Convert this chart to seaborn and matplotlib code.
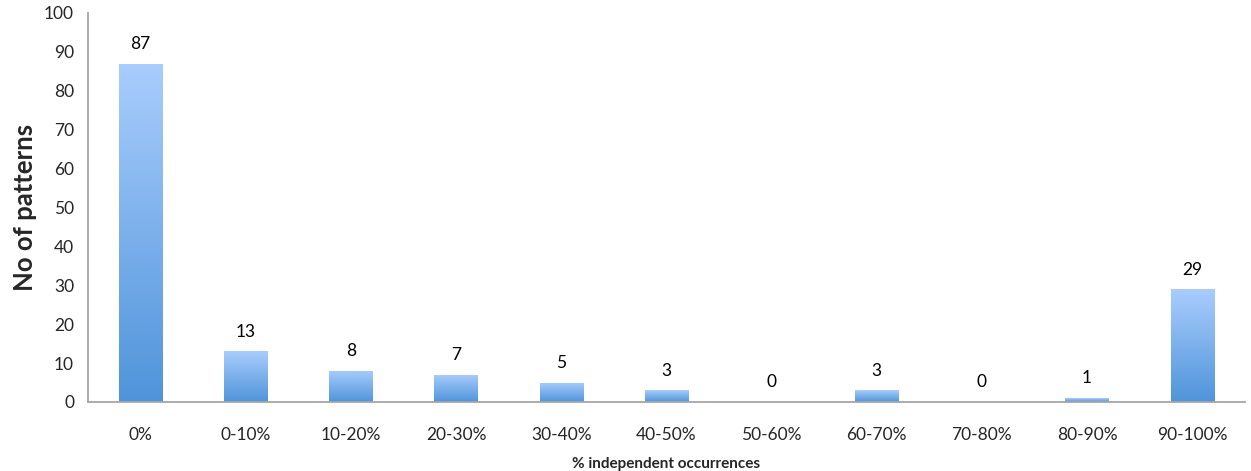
import numpy as np
import pandas as pd
import matplotlib
matplotlib.use('Agg')
import matplotlib.pyplot as plt
import seaborn as sns
from matplotlib.colors import LinearSegmentedColormap

categories = ['0%', '0-10%', '10-20%', '20-30%', '30-40%', '40-50%',
              '50-60%', '60-70%', '70-80%', '80-90%', '90-100%']
patterns = [87, 13, 8, 7, 5, 3, 0, 3, 0, 1, 29]

df = pd.DataFrame({'bin': categories, 'count': patterns})

sns.set_style('white')
plt.rcParams['font.family'] = ['Lato', 'DejaVu Sans']

fig = plt.figure(figsize=(12.51, 4.71), dpi=100)
ax = fig.add_axes([0.0703, 0.1465, 0.9247, 0.826])

sns.barplot(data=df, x='bin', y='count', ax=ax, width=0.41,
            color='#7fb0ec', saturation=1, edgecolor='none')

# vertical gradient inside every bar, light at top, darker at bottom
grad_cmap = LinearSegmentedColormap.from_list('g', ['#4f94da', '#a9cdfd'])
grad = np.linspace(0, 1, 256).reshape(-1, 1)
for bar in ax.patches:
    x0, y0 = bar.get_x(), bar.get_y()
    w, h = bar.get_width(), bar.get_height()
    if h <= 0:
        continue
    im = ax.imshow(grad, cmap=grad_cmap, origin='lower', aspect='auto',
                   extent=[x0, x0 + w, y0, y0 + h], zorder=bar.get_zorder() + 0.1)
    im.set_clip_path(bar)

for i, v in enumerate(patterns):
    ax.text(i, v + 3, str(v), ha='center', va='bottom', fontsize=12.5, color='black')

ax.set_xlim(-0.5, len(categories) - 0.5)
ax.set_ylim(0, 100)
ax.set_yticks(range(0, 101, 10))
ax.set_xticks(range(len(categories)))
ax.set_xticklabels(categories)
ax.set_xticks(np.arange(-0.5, len(categories), 1), minor=True)

ax.tick_params(axis='x', which='major', length=0, pad=18, labelsize=12.5)
ax.tick_params(axis='x', which='minor', length=6, width=1.2, color='#a6a6a6', direction='out')
ax.tick_params(axis='y', length=6, width=1.2, color='#a6a6a6', direction='out', labelsize=12.5, pad=4)

sns.despine(ax=ax)
for s in ['left', 'bottom']:
    ax.spines[s].set_color('#a6a6a6')
    ax.spines[s].set_linewidth(1.3)

ax.set_xlabel('% independent occurrences', fontsize=11, fontweight='bold', labelpad=10)
ax.set_ylabel('No of patterns', fontsize=18.5, fontweight='bold', labelpad=5)

fig.savefig('out.png', dpi=100)
